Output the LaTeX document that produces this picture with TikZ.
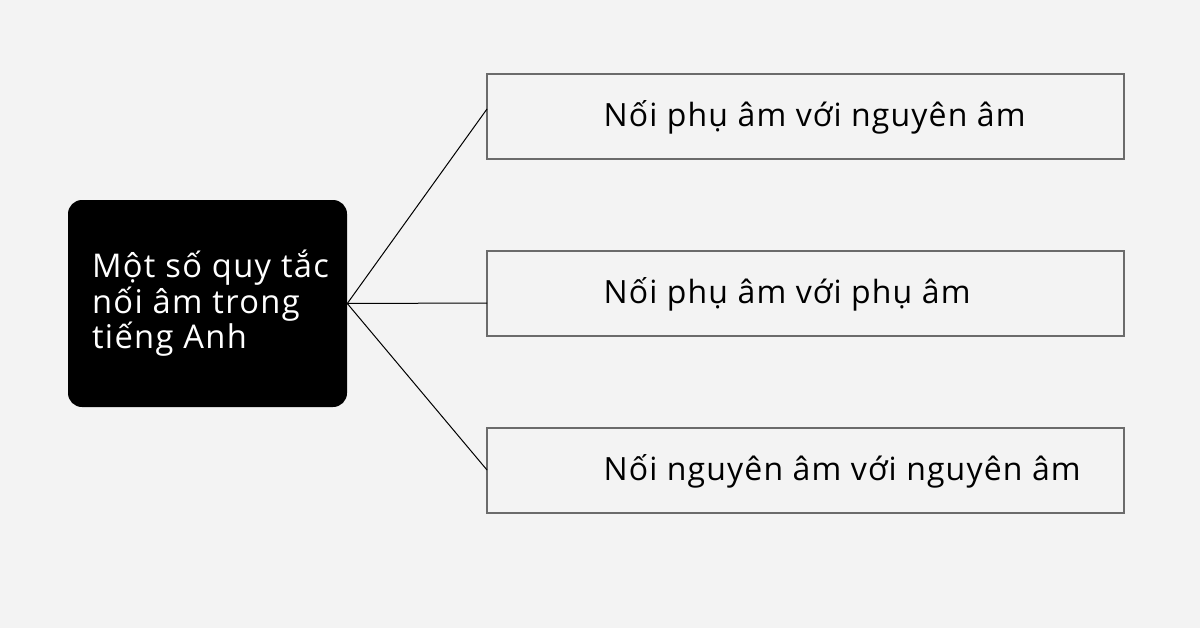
\documentclass[tikz,border=0pt]{standalone}
\usepackage{fontspec}
\setmainfont{Open Sans}
\newfontfamily\mainfam[LetterSpace=4.2]{Open Sans}
\newfontfamily\subfam[LetterSpace=3.6]{Open Sans}
\definecolor{bg}{HTML}{F3F3F3}
\definecolor{boxline}{HTML}{6B6B6B}
\tikzset{
  mainbox/.style={fill=black, rounded corners=10.5pt, minimum width=209.25pt, minimum height=155.25pt, inner sep=0pt},
  subbox/.style={draw=boxline, line width=1pt, fill=bg, minimum width=477.75pt, minimum height=63.75pt, inner sep=0pt},
  maintext/.style={text=white, align=left, font=\mainfam\fontsize{24.5}{26.6}\selectfont, inner sep=0pt},
  subtext/.style={text=black, font=\subfam\fontsize{24}{26}\selectfont, inner sep=0pt},
  conn/.style={draw=black, line width=0.75pt}
}
\begin{document}
\begin{tikzpicture}[x=0.75pt,y=-0.75pt]
\useasboundingbox[fill=bg] (0,0) rectangle (1200,628);
\node[mainbox] (m) at (207.5,303.5) {};
\node[maintext, anchor=west] (mt) at ([xshift=18pt]m.west) {Một số quy tắc\\nối âm trong\\tiếng Anh};
\node[subbox] (b1) at (805.5,116.5) {};
\node[subbox] (b2) at (805.5,293.5) {};
\node[subbox] (b3) at (805.5,470.5) {};
\node[subtext, anchor=base west] (t1) at ([xshift=87.75pt,yshift=-7.5pt]b1.west) {Nối phụ âm với nguyên âm};
\node[subtext, anchor=base west] (t2) at ([xshift=87.75pt,yshift=-7.5pt]b2.west) {Nối phụ âm với phụ âm};
\node[subtext, anchor=base west] (t3) at ([xshift=87.75pt,yshift=-7.5pt]b3.west) {Nối nguyên âm với nguyên âm};
\coordinate (c1) at (487,109);
\coordinate (c2) at (487,303);
\coordinate (c3) at (487,470);
\draw[conn] (m.east) -- (c1);
\draw[conn] (m.east) -- (c2);
\draw[conn] (m.east) -- (c3);
\end{tikzpicture}
\end{document}
